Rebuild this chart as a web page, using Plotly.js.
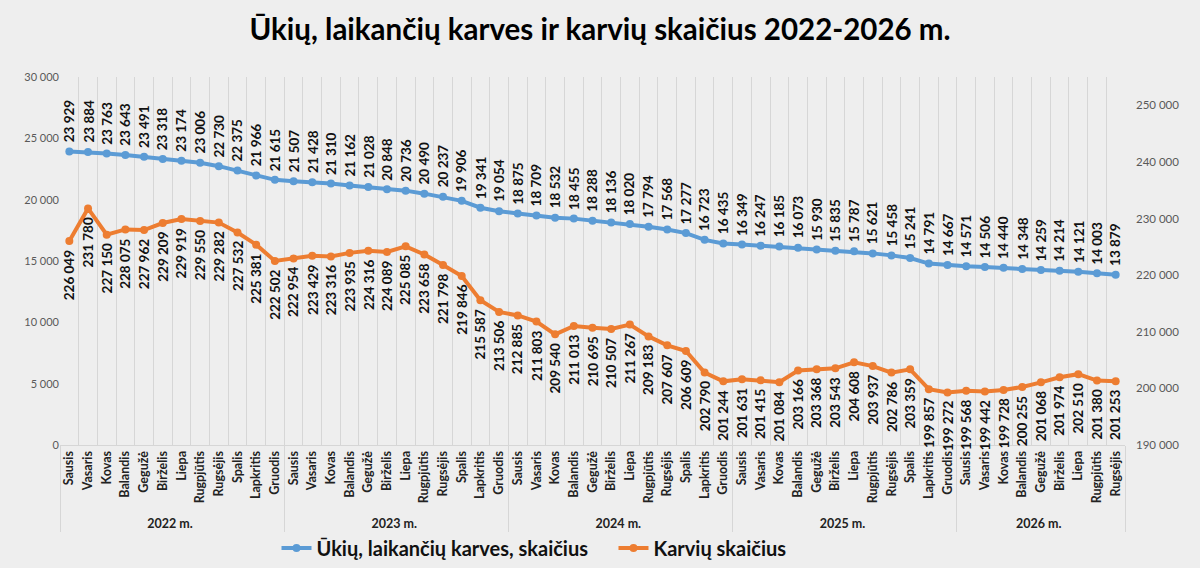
<!DOCTYPE html>
<html>
<head>
<meta charset="utf-8">
<script src="https://cdn.plot.ly/plotly-3.0.1.min.js"></script>
<style>html,body{margin:0;padding:0;background:#eeeeee}</style>
</head>
<body>
<div id="chart" style="width:1200px;height:568px"></div>
<script>
var months = ['Sausis', 'Vasaris', 'Kovas', 'Balandis', 'Gegužė', 'Birželis', 'Liepa',
  'Rugpjūtis', 'Rugsėjis', 'Spalis', 'Lapkritis', 'Gruodis'];
var years = ['2022 m.', '2023 m.', '2024 m.', '2025 m.', '2026 m.'];
var monthsPerYear = [12, 12, 12, 12, 9];

var farms = [
  23929, 23884, 23763, 23643, 23491, 23318, 23174, 23006, 22730, 22375, 21966, 21615,
  21507, 21428, 21310, 21162, 21028, 20848, 20736, 20490, 20237, 19906, 19341, 19054,
  18875, 18709, 18532, 18455, 18288, 18136, 18020, 17794, 17568, 17277, 16723, 16435,
  16349, 16247, 16185, 16073, 15930, 15835, 15787, 15621, 15458, 15241, 14791, 14667,
  14571, 14506, 14440, 14348, 14259, 14214, 14121, 14003, 13879];

var cows = [
  226049, 231780, 227150, 228075, 227962, 229209, 229919, 229550, 229282, 227532, 225381, 222502,
  222954, 223429, 223316, 223935, 224316, 224089, 225085, 223658, 221798, 219846, 215587, 213506,
  212885, 211803, 209540, 211013, 210695, 210507, 211267, 209183, 207607, 206609, 202790, 201244,
  201631, 201415, 201084, 203166, 203368, 203543, 204608, 203937, 202786, 203359, 199857, 199272,
  199568, 199442, 199728, 200255, 201068, 201974, 202510, 201380, 201253];

// two-level category axis: year / month
var yearCat = [], monthCat = [];
years.forEach(function (y, k) {
  for (var m = 0; m < monthsPerYear[k]; m++) {
    yearCat.push('<b>' + y + '</b>');
    monthCat.push('<b>' + months[m] + '</b>');
  }
});

function fmt(v) {
  return String(v).replace(/\B(?=(\d{3})+(?!\d))/g, ' ');
}

var blue = '#5b9bd5', orange = '#ed7d31';

var data = [{
  x: [yearCat, monthCat],
  y: farms,
  // trailing nbsp widens the gap to the second legend item
  name: '<b>Ūkių, laikančių karves, skaičius</b>\u00a0\u00a0\u00a0\u00a0',
  type: 'scatter',
  mode: 'lines+markers',
  line: {color: blue, width: 4},
  marker: {color: blue, size: 8},
  yaxis: 'y'
}, {
  x: [yearCat, monthCat],
  y: cows,
  name: '<b>Karvių skaičius</b>',
  type: 'scatter',
  mode: 'lines+markers',
  line: {color: orange, width: 4},
  marker: {color: orange, size: 8},
  yaxis: 'y2'
}];

var labelFont = {family: 'Lato, sans-serif', size: 13.5, color: '#111'};
var annotations = [];
farms.forEach(function (v, i) {
  annotations.push({
    x: i, y: v, xref: 'x', yref: 'y',
    text: '<b>' + fmt(v) + '</b>', textangle: -90, showarrow: false,
    yanchor: 'bottom', yshift: 7, font: labelFont
  });
});
cows.forEach(function (v, i) {
  annotations.push({
    x: i, y: v, xref: 'x', yref: 'y2',
    text: '<b>' + fmt(v) + '</b>', textangle: -90, showarrow: false,
    yanchor: 'top', yshift: -7, font: labelFont
  });
});

var layout = {
  width: 1200,
  height: 568,
  paper_bgcolor: '#eeeeee',
  plot_bgcolor: '#eeeeee',
  separators: ', ',
  margin: {l: 60, r: 75, t: 77, b: 123},
  title: {
    text: '<b>Ūkių, laikančių karves ir karvių skaičius 2022-2026 m.</b>',
    font: {family: 'Lato, sans-serif', size: 29.5, color: '#000'},
    x: 0.5, xanchor: 'center', y: 0.948, yanchor: 'middle'
  },
  xaxis: {
    type: 'multicategory',
    range: [-0.5, monthCat.length - 0.5],
    tickson: 'boundaries',
    showgrid: true,
    gridcolor: '#d6d6d6',
    gridwidth: 1,
    showline: true,
    linecolor: '#d6d6d6',
    ticks: '',
    tickangle: -90,
    tickfont: {family: 'Lato, sans-serif', size: 12.5, color: '#222'},
    showdividers: true,
    dividercolor: '#d6d6d6',
    dividerwidth: 1,
    automargin: false
  },
  yaxis: {
    range: [0, 30000],
    dtick: 5000,
    tickformat: ',d',
    showgrid: false,
    zeroline: false,
    ticks: '',
    tickfont: {family: 'Lato, sans-serif', size: 11, color: '#595959'},
    automargin: false
  },
  yaxis2: {
    overlaying: 'y',
    side: 'right',
    range: [190000, 255000],
    tick0: 190000,
    dtick: 10000,
    tickformat: ',d',
    showgrid: false,
    zeroline: false,
    ticks: '',
    ticklabelstandoff: 10,
    tickfont: {family: 'Lato, sans-serif', size: 11.5, color: '#595959'},
    automargin: false
  },
  showlegend: true,
  legend: {
    orientation: 'h',
    xref: 'container',
    x: 0.445, xanchor: 'center',
    yref: 'container',
    y: 0.035, yanchor: 'middle',
    font: {family: 'Lato, sans-serif', size: 20, color: '#111'},
    bgcolor: 'rgba(0,0,0,0)'
  },
  annotations: annotations
};

Plotly.newPlot('chart', data, layout, {displayModeBar: false});
</script>
</body>
</html>
